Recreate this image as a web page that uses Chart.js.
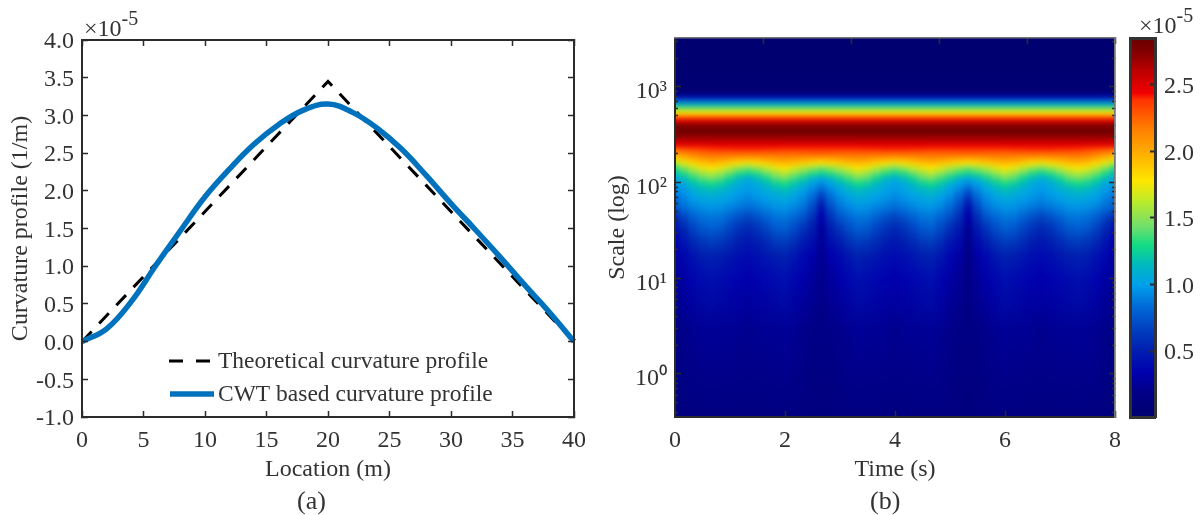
<!DOCTYPE html>
<html>
<head>
<meta charset="utf-8">
<script src="https://cdn.jsdelivr.net/npm/chart.js@4"></script>
<style>
  html, body { margin: 0; padding: 0; background: #fff; }
  body { width: 1202px; height: 515px; position: relative; overflow: hidden; font-family: "Liberation Serif", serif; color: #333; }
  canvas { position: absolute; top: 0; }
  .note { position: absolute; font-size: 24px; line-height: 24px; white-space: nowrap; }
  .note sup { font-size: 20px; line-height: 0; position: relative; top: -2px; vertical-align: super; }
</style>
</head>
<body>
<canvas id="curveChart" width="610" height="515" style="left:0"></canvas>
<canvas id="scaleChart" width="540" height="515" style="left:600px"></canvas>
<canvas id="barChart" width="82" height="515" style="left:1120px"></canvas>
<div class="note" style="left:84px;top:16px">×10<sup>-5</sup></div>
<div class="note" style="left:1139px;top:13px">×10<sup>-5</sup></div>
<div class="note" style="left:297px;top:487px;font-size:26px;line-height:28px">(a)</div>
<div class="note" style="left:870px;top:487px;font-size:26px;line-height:28px">(b)</div>
<script>
// left panel data (values in 1e-5 1/m)
const theoryLocation = [0, 20, 40];
const theoryCurvature = [0, 3.45, 0];
const cwtLocation = [0, 2, 4, 6, 8, 10, 12, 14, 16, 18, 20, 22, 24, 26, 28, 30, 32, 34, 36, 38, 40];
const cwtCurvature = [0, 0.17, 0.53, 1.01, 1.47, 1.92, 2.29, 2.62, 2.88, 3.07, 3.15, 3.04, 2.83, 2.55, 2.2, 1.83, 1.48, 1.12, 0.75, 0.39, 0];
const seriesNames = ['Theoretical curvature profile', 'CWT based curvature profile'];

// right panel data
const timeValues = [];
for (let i = 0; i <= 48; i++) timeValues.push(i / 6);
const scaleRange = [0.355, 3250];
const majorScaleTicks = [1, 10, 100, 1000];
const majorScaleLabels = ['10\u2070', '10\u00b9', '10\u00b2', '10\u00b3'];
const minorScaleTicks = [0.4, 0.5, 0.6, 0.7, 0.8, 0.9, 2, 3, 4, 5, 6, 7, 8, 9, 20, 30, 40, 50, 60, 70, 80, 90, 200, 300, 400, 500, 600, 700, 800, 900, 2000, 3000];
const colorTicks = [0.5, 1.0, 1.5, 2.0, 2.5];
const colorRange = [0.004, 2.853];

// colours
const colorLevels = [0, 0.19, 0.34, 0.5, 0.65, 0.83, 1.0, 1.15, 1.3, 1.43, 1.63, 1.78, 2.0, 2.16, 2.39, 2.44, 2.6, 2.75, 2.853];
const colorValues = [[0,0,110],[0,0,135],[0,0,175],[0,30,175],[0,60,190],[0,105,215],[0,160,235],[0,185,190],[20,220,130],[110,222,110],[190,235,40],[255,230,0],[255,170,0],[255,130,0],[255,50,0],[240,0,0],[190,0,0],[130,0,0],[105,0,0]];

// upper rows hardly change with time, one value per row
const upperScales = [3250, 887, 845, 785, 731, 648, 574, 534, 485, 451, 400, 338, 279, 241];
const upperValues = [0.02, 0.03, 0.12, 0.38, 0.75, 1.15, 1.6, 1.78, 2.25, 2.44, 2.75, 2.85, 2.62, 2.44];

// lower rows, one line per entry of timeValues
const lowerScales = [230, 204, 181, 160, 142, 126, 112, 99, 84, 71, 56, 44, 34, 25, 17.5, 10, 2.87, 0.355];
const lowerColumns = [
  [2.30,2.10,1.85,1.60,1.32,1.17,1.04,.98,.92,.85,.78,.55,.42,.35,.30,.25,.18,.12],
  [2.33,2.15,1.95,1.72,1.48,1.32,1.17,1.06,.98,.92,.85,.68,.55,.45,.37,.30,.20,.13],
  [2.36,2.19,2.03,1.83,1.62,1.45,1.31,1.17,1.07,1.00,.91,.79,.68,.56,.44,.36,.23,.14],
  [2.38,2.23,2.09,1.91,1.73,1.55,1.41,1.26,1.13,1.05,.95,.85,.76,.63,.50,.40,.24,.14],
  [2.40,2.25,2.12,1.95,1.78,1.60,1.47,1.30,1.16,1.07,.97,.87,.79,.66,.52,.42,.25,.14],
  [2.41,2.25,2.11,1.92,1.73,1.54,1.41,1.25,1.12,1.05,.96,.86,.77,.64,.50,.40,.24,.14],
  [2.41,2.25,2.09,1.86,1.62,1.43,1.28,1.16,1.07,1.01,.92,.80,.69,.58,.46,.37,.24,.14],
  [2.42,2.25,2.07,1.80,1.52,1.33,1.16,1.07,1.02,.97,.88,.73,.61,.51,.42,.35,.23,.14],
  [2.42,2.25,2.05,1.75,1.45,1.27,1.08,1.02,.98,.93,.85,.68,.56,.47,.40,.33,.22,.14],
  [2.42,2.25,2.07,1.80,1.53,1.33,1.17,1.07,1.02,.97,.88,.73,.61,.51,.42,.35,.23,.14],
  [2.41,2.25,2.09,1.86,1.63,1.43,1.28,1.16,1.07,1.01,.92,.80,.69,.57,.46,.37,.24,.14],
  [2.41,2.25,2.11,1.92,1.73,1.54,1.41,1.25,1.12,1.05,.96,.86,.77,.64,.50,.40,.24,.14],
  [2.40,2.25,2.12,1.95,1.78,1.60,1.47,1.30,1.16,1.07,.97,.87,.79,.66,.52,.42,.25,.14],
  [2.40,2.25,2.11,1.92,1.70,1.52,1.37,1.22,1.10,1.02,.93,.82,.72,.60,.47,.37,.23,.14],
  [2.40,2.26,2.09,1.87,1.60,1.42,1.26,1.12,1.02,.94,.86,.74,.62,.50,.39,.32,.21,.14],
  [2.40,2.27,2.07,1.82,1.52,1.34,1.14,1.02,.92,.84,.72,.60,.50,.42,.33,.27,.19,.13],
  [2.40,2.28,2.05,1.78,1.45,1.28,1.06,.95,.80,.65,.46,.36,.28,.25,.23,.21,.17,.13],
  [2.40,2.27,2.07,1.82,1.52,1.34,1.14,1.02,.92,.84,.72,.60,.50,.42,.33,.27,.19,.13],
  [2.40,2.26,2.09,1.87,1.60,1.42,1.26,1.12,1.02,.94,.86,.74,.62,.50,.39,.32,.21,.14],
  [2.40,2.25,2.11,1.92,1.70,1.52,1.37,1.22,1.10,1.02,.93,.82,.72,.60,.47,.37,.23,.14],
  [2.40,2.25,2.12,1.95,1.78,1.60,1.47,1.30,1.16,1.07,.97,.87,.79,.66,.52,.42,.25,.14],
  [2.41,2.25,2.11,1.92,1.73,1.54,1.41,1.25,1.12,1.05,.96,.86,.77,.64,.50,.40,.24,.14],
  [2.41,2.25,2.09,1.86,1.62,1.43,1.28,1.16,1.07,1.01,.92,.80,.69,.58,.46,.37,.24,.14],
  [2.42,2.25,2.07,1.80,1.52,1.33,1.16,1.07,1.02,.97,.88,.73,.61,.51,.42,.35,.23,.14],
  [2.42,2.25,2.05,1.75,1.45,1.27,1.08,1.02,.98,.93,.85,.68,.56,.47,.40,.33,.22,.14],
  [2.42,2.25,2.07,1.80,1.53,1.33,1.17,1.07,1.02,.97,.88,.73,.61,.51,.42,.35,.23,.14],
  [2.41,2.25,2.09,1.86,1.63,1.43,1.28,1.16,1.07,1.01,.92,.80,.69,.57,.46,.37,.24,.14],
  [2.41,2.25,2.11,1.92,1.73,1.54,1.41,1.25,1.12,1.05,.96,.86,.77,.64,.50,.40,.24,.14],
  [2.40,2.25,2.12,1.95,1.78,1.60,1.47,1.30,1.16,1.07,.97,.87,.79,.66,.52,.42,.25,.14],
  [2.40,2.25,2.11,1.92,1.70,1.52,1.37,1.22,1.10,1.01,.92,.81,.71,.59,.46,.36,.23,.14],
  [2.40,2.26,2.09,1.87,1.60,1.42,1.26,1.12,1.01,.93,.84,.72,.60,.48,.37,.30,.20,.14],
  [2.40,2.27,2.07,1.82,1.52,1.34,1.14,1.01,.91,.82,.70,.58,.48,.40,.31,.25,.18,.13],
  [2.40,2.28,2.05,1.78,1.45,1.28,1.06,.94,.78,.62,.42,.32,.24,.21,.19,.18,.15,.12],
  [2.40,2.27,2.07,1.82,1.52,1.34,1.14,1.01,.91,.82,.70,.58,.48,.40,.31,.25,.18,.13],
  [2.40,2.26,2.09,1.87,1.60,1.42,1.26,1.12,1.02,.94,.86,.74,.62,.50,.39,.32,.21,.14],
  [2.40,2.25,2.11,1.92,1.70,1.52,1.37,1.22,1.10,1.02,.93,.82,.72,.60,.47,.37,.23,.14],
  [2.40,2.25,2.12,1.95,1.78,1.60,1.47,1.30,1.16,1.07,.97,.87,.79,.66,.52,.42,.25,.14],
  [2.41,2.25,2.11,1.92,1.73,1.54,1.41,1.25,1.12,1.05,.96,.86,.77,.64,.50,.40,.24,.14],
  [2.41,2.25,2.09,1.86,1.62,1.43,1.28,1.16,1.07,1.01,.92,.80,.69,.58,.46,.37,.24,.14],
  [2.42,2.25,2.07,1.80,1.52,1.33,1.16,1.07,1.02,.97,.88,.73,.61,.51,.42,.35,.23,.14],
  [2.42,2.25,2.05,1.75,1.45,1.27,1.08,1.02,.98,.93,.85,.68,.56,.47,.40,.33,.22,.14],
  [2.42,2.25,2.07,1.80,1.53,1.33,1.17,1.07,1.02,.97,.88,.73,.61,.51,.42,.35,.23,.14],
  [2.41,2.25,2.09,1.86,1.63,1.43,1.28,1.16,1.07,1.01,.92,.80,.69,.57,.46,.37,.24,.14],
  [2.41,2.25,2.11,1.92,1.73,1.54,1.41,1.25,1.12,1.05,.96,.86,.77,.64,.50,.40,.24,.14],
  [2.40,2.25,2.12,1.95,1.78,1.60,1.47,1.30,1.16,1.07,.97,.87,.79,.66,.52,.42,.25,.14],
  [2.38,2.23,2.09,1.91,1.73,1.55,1.41,1.26,1.13,1.05,.95,.85,.76,.63,.50,.40,.24,.14],
  [2.36,2.19,2.03,1.83,1.62,1.45,1.31,1.17,1.07,1.00,.91,.79,.68,.56,.44,.36,.23,.14],
  [2.33,2.15,1.95,1.72,1.48,1.32,1.17,1.06,.98,.92,.85,.68,.55,.45,.37,.30,.20,.13],
  [2.30,2.10,1.85,1.60,1.32,1.17,1.04,.98,.92,.85,.78,.55,.42,.35,.30,.25,.18,.12]
];

const textColor = '#333';
const axisColor = '#2b2b2b';
const tickFont = { family: 'Liberation Serif', size: 24 };
const titleFont = { family: 'Liberation Serif', size: 24 };

// colour for a curvature value, piecewise between the bar's levels
function mapColor(v) {
  let k = 0;
  while (k < colorLevels.length - 2 && v > colorLevels[k + 1]) k++;
  const f = Math.min(1, Math.max(0, (v - colorLevels[k]) / (colorLevels[k + 1] - colorLevels[k])));
  const a = colorValues[k];
  const b = colorValues[k + 1];
  return 'rgb(' + Math.round(a[0] + (b[0] - a[0]) * f) + ',' + Math.round(a[1] + (b[1] - a[1]) * f) + ',' + Math.round(a[2] + (b[2] - a[2]) * f) + ')';
}

function fixedSize(size) {
  return function (scale) {
    if (scale.isHorizontal()) scale.height = size;
    else scale.width = size;
  };
}

function useTicks(list) {
  return function (scale) {
    scale.ticks = list.map(v => ({ value: v }));
  };
}

// tick-only axis for the far sides and the minor marks
function markAxis(axis, position, min, max, extra) {
  return Object.assign({
    axis: axis,
    position: position,
    type: 'linear',
    min: min,
    max: max,
    afterFit: fixedSize(0),
    ticks: { display: false, autoSkip: false },
    grid: { drawOnChartArea: false, tickLength: -6, tickWidth: 1.5, tickColor: axisColor, z: 1 },
    border: { color: axisColor, width: 2, z: 1 }
  }, extra);
}

// legend sits inside the axes, so it is drawn here
const curveLegend = {
  id: 'curveLegend',
  afterDraw(chart) {
    const c = chart.ctx;
    c.save();
    c.font = '23.5px "Liberation Serif"';
    c.textBaseline = 'middle';
    c.textAlign = 'left';
    c.fillStyle = textColor;
    c.fillText(seriesNames[0], 218, 362);
    c.fillText(seriesNames[1], 218, 395);
    c.strokeStyle = '#000';
    c.lineWidth = 3;
    c.setLineDash([14, 13]);
    c.beginPath(); c.moveTo(169, 361); c.lineTo(210, 361); c.stroke();
    c.setLineDash([]);
    c.strokeStyle = '#0072BD';
    c.lineWidth = 5.5;
    c.beginPath(); c.moveTo(170, 394); c.lineTo(214, 394); c.stroke();
    c.restore();
  }
};

new Chart(document.getElementById('curveChart'), {
  type: 'line',
  data: {
    datasets: [
      {
        label: seriesNames[1],
        data: cwtLocation.map((x, i) => ({ x: x, y: cwtCurvature[i] })),
        borderColor: '#0072BD',
        borderWidth: 5.5,
        pointRadius: 0,
        tension: 0.4,
        clip: false,
        order: 1
      },
      {
        label: seriesNames[0],
        data: theoryLocation.map((x, i) => ({ x: x, y: theoryCurvature[i] })),
        borderColor: '#000',
        borderWidth: 3,
        borderDash: [14, 11],
        pointRadius: 0,
        order: 2
      }
    ]
  },
  options: {
    responsive: false,
    animation: false,
    layout: { padding: { top: 40, right: 36, left: 0, bottom: 0 } },
    plugins: { legend: { display: false }, tooltip: { enabled: false } },
    scales: {
      x: {
        type: 'linear', min: 0, max: 40, position: 'bottom',
        afterFit: fixedSize(98),
        ticks: { stepSize: 5, font: tickFont, color: textColor, padding: 15, maxRotation: 0, autoSkip: false },
        grid: { drawOnChartArea: false, tickLength: -6, tickWidth: 1.5, tickColor: axisColor, z: 1 },
        border: { color: axisColor, width: 2, z: 1 },
        title: { display: true, text: 'Location (m)', font: titleFont, color: textColor, padding: { top: 0, bottom: 31 } }
      },
      y: {
        type: 'linear', min: -1, max: 4, position: 'left',
        afterFit: fixedSize(82),
        ticks: { stepSize: 0.5, font: tickFont, color: textColor, padding: 14, labelOffset: 2, autoSkip: false, callback: v => v.toFixed(1) },
        grid: { drawOnChartArea: false, tickLength: -6, tickWidth: 1.5, tickColor: axisColor, z: 1 },
        border: { color: axisColor, width: 2, z: 1 },
        title: { display: true, text: 'Curvature profile (1/m)', font: titleFont, color: textColor, padding: { top: 6, bottom: 0 } }
      },
      xTop: markAxis('x', 'top', 0, 40, { ticks: { display: false, stepSize: 5 } }),
      yRight: markAxis('y', 'right', -1, 4, { ticks: { display: false, stepSize: 0.5 } })
    }
  },
  plugins: [curveLegend]
});

// vertical gradient for one time column, stops placed through the y scale
function columnPaint(ctx) {
  const i = ctx.dataIndex;
  const yScale = ctx.chart.scales.y;
  if (i === undefined || !yScale || !Number.isFinite(yScale.top) || yScale.bottom <= yScale.top) return '#00006e';
  const g = ctx.chart.ctx.createLinearGradient(0, yScale.top, 0, yScale.bottom);
  const h = yScale.bottom - yScale.top;
  upperScales.forEach((s, k) => {
    g.addColorStop(Math.min(1, Math.max(0, (yScale.getPixelForValue(s) - yScale.top) / h)), mapColor(upperValues[k]));
  });
  lowerScales.forEach((s, k) => {
    g.addColorStop(Math.min(1, Math.max(0, (yScale.getPixelForValue(s) - yScale.top) / h)), mapColor(lowerColumns[i][k]));
  });
  return g;
}

// the reference is a shaded image, soften the column steps
const softenColumns = {
  id: 'softenColumns',
  afterDatasetsDraw(chart) {
    const a = chart.chartArea;
    const c = chart.ctx;
    c.save();
    c.beginPath();
    c.rect(a.left, a.top, a.right - a.left, a.bottom - a.top);
    c.clip();
    c.filter = 'blur(2.5px)';
    c.drawImage(c.canvas, a.left, a.top, a.right - a.left, a.bottom - a.top, a.left, a.top, a.right - a.left, a.bottom - a.top);
    c.restore();
  }
};

new Chart(document.getElementById('scaleChart'), {
  type: 'bar',
  data: {
    datasets: [{
      label: 'Scale',
      data: timeValues.map(t => ({ x: t, y: scaleRange })),
      backgroundColor: columnPaint,
      borderWidth: 0,
      barPercentage: 1.1,
      categoryPercentage: 1
    }]
  },
  options: {
    responsive: false,
    animation: false,
    layout: { padding: { top: 38, right: 25, left: 0, bottom: 0 } },
    plugins: { legend: { display: false }, tooltip: { enabled: false } },
    scales: {
      x: {
        type: 'linear', min: 0, max: 8, position: 'bottom', offset: false,
        afterFit: fixedSize(98),
        ticks: { stepSize: 2, font: tickFont, color: textColor, padding: 15, maxRotation: 0, autoSkip: false },
        grid: { drawOnChartArea: false, offset: false, tickLength: -6, tickWidth: 1.5, tickColor: axisColor, z: 1 },
        border: { color: axisColor, width: 2, z: 1 },
        title: { display: true, text: 'Time (s)', font: titleFont, color: textColor, padding: { top: 0, bottom: 31 } }
      },
      y: {
        type: 'logarithmic', min: scaleRange[0], max: scaleRange[1], position: 'left', weight: 1,
        afterFit: fixedSize(75),
        afterBuildTicks: useTicks(majorScaleTicks),
        ticks: { font: tickFont, color: textColor, padding: 14, labelOffset: 5, autoSkip: false, callback: (v, i) => majorScaleLabels[i] },
        grid: { drawOnChartArea: false, tickLength: -6, tickWidth: 1.5, tickColor: axisColor, z: 1 },
        border: { color: axisColor, width: 2, z: 1 },
        title: { display: true, text: 'Scale (log)', font: titleFont, color: textColor, padding: { top: 3, bottom: 0 } }
      },
      yMinor: markAxis('y', 'left', scaleRange[0], scaleRange[1], {
        type: 'logarithmic', weight: 0, afterBuildTicks: useTicks(minorScaleTicks),
        grid: { drawOnChartArea: false, tickLength: -3, tickWidth: 1.5, tickColor: axisColor, z: 1 }
      }),
      xTop: markAxis('x', 'top', 0, 8, { ticks: { display: false, stepSize: 2 }, border: { color: '#777', width: 1.5, z: 1 } }),
      yRight: markAxis('y', 'right', scaleRange[0], scaleRange[1], {
        type: 'logarithmic', weight: 1, afterBuildTicks: useTicks(majorScaleTicks), border: { color: '#777', width: 1.5, z: 1 }
      }),
      yRightMinor: markAxis('y', 'right', scaleRange[0], scaleRange[1], {
        type: 'logarithmic', weight: 0, afterBuildTicks: useTicks(minorScaleTicks), border: { color: '#777', width: 1.5, z: 1 },
        grid: { drawOnChartArea: false, tickLength: -3, tickWidth: 1.5, tickColor: axisColor, z: 1 }
      })
    }
  },
  plugins: [softenColumns]
});

// colour bar: one floating bar painted with the same levels
function barPaint(ctx) {
  const yScale = ctx.chart.scales.y;
  if (!yScale || !Number.isFinite(yScale.top) || yScale.bottom <= yScale.top) return '#00006e';
  const g = ctx.chart.ctx.createLinearGradient(0, yScale.bottom, 0, yScale.top);
  const h = yScale.bottom - yScale.top;
  colorLevels.forEach(v => {
    g.addColorStop(Math.min(1, Math.max(0, (yScale.bottom - yScale.getPixelForValue(v)) / h)), mapColor(v));
  });
  return g;
}

new Chart(document.getElementById('barChart'), {
  type: 'bar',
  data: {
    labels: ['colour'],
    datasets: [{ label: 'Colour', data: [colorRange], backgroundColor: barPaint, borderWidth: 0, barPercentage: 1, categoryPercentage: 1 }]
  },
  options: {
    responsive: false,
    animation: false,
    layout: { padding: { top: 38, right: 0, left: 10, bottom: 98 } },
    plugins: { legend: { display: false }, tooltip: { enabled: false } },
    scales: {
      x: { display: true, position: 'bottom', afterFit: fixedSize(0), ticks: { display: false }, grid: { display: false }, border: { color: '#333', width: 3, z: 1 } },
      y: {
        type: 'linear', min: colorRange[0], max: colorRange[1], position: 'right',
        afterFit: fixedSize(47),
        afterBuildTicks: useTicks(colorTicks),
        ticks: { font: tickFont, color: textColor, padding: 14, labelOffset: 2, autoSkip: false, callback: v => v.toFixed(1) },
        grid: { drawOnChartArea: false, tickLength: -5, tickWidth: 2, tickColor: axisColor, z: 1 },
        border: { color: '#333', width: 3, z: 1 }
      },
      xTop: markAxis('x', 'top', 0, 1, { grid: { display: false }, border: { color: '#333', width: 3, z: 1 } }),
      yLeft: markAxis('y', 'left', colorRange[0], colorRange[1], { grid: { display: false }, border: { color: '#333', width: 3, z: 1 } })
    }
  }
});
</script>
</body>
</html>
